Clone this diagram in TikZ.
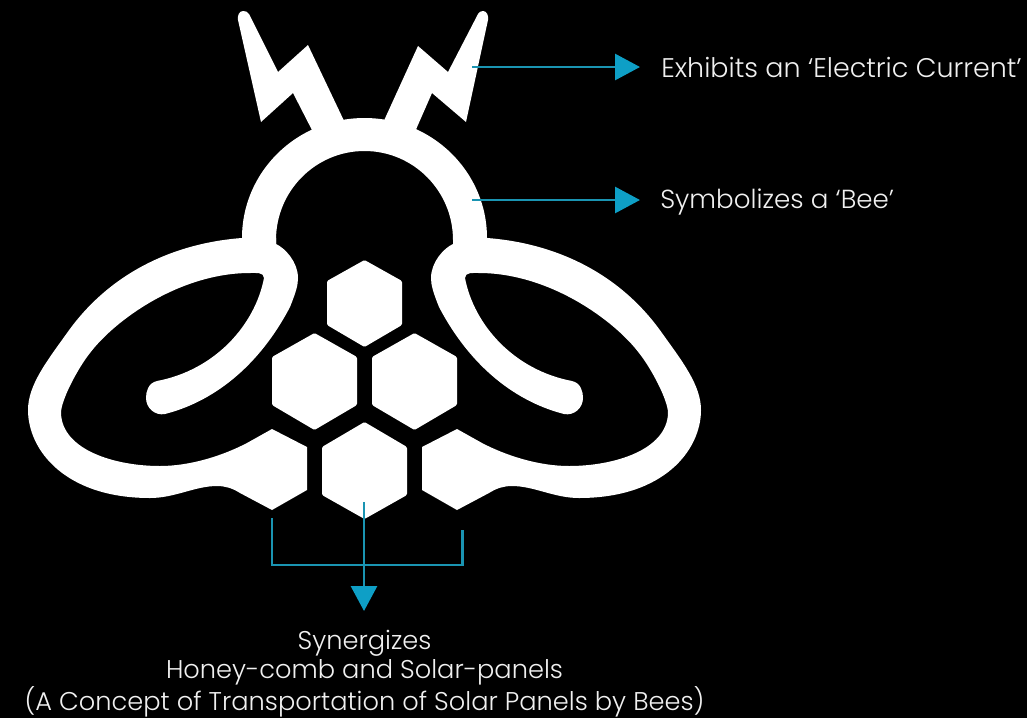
\documentclass[tikz,border=0pt]{standalone}
\usepackage{fontspec}
\setmainfont{Poppins Light}
\usetikzlibrary{arrows.meta}
\definecolor{teal}{HTML}{1A94B2}
\definecolor{headc}{HTML}{0E9FC6}
\definecolor{lab}{HTML}{F0F0F0}
\tikzset{
  x=0.75pt,y=-0.75pt,
  conn/.style={draw=teal,line width=2.2pt,line join=miter,
    -{Triangle[length=18.75pt,width=19.5pt,color=headc]}},
  plain/.style={draw=teal,line width=2.2pt,line join=miter},
  shapew/.style={fill=white,draw=none},
  hexa/.style={fill=white,draw=none,rounded corners=1pt},
  lbl/.style={text=lab,font=\fontsize{19.25pt}{21.9pt}\selectfont,inner sep=0pt,align=center},
  lblbee/.style={lbl,font=\fontsize{19.6pt}{21.9pt}\selectfont},
  lblbig/.style={lbl,font=\fontsize{20.2pt}{21.9pt}\selectfont}
}
\newcommand{\wingshape}{%
  \fill[shapew]
   (276,238) -- (242,238)
   .. controls (175,243) and (110,272) .. (67,333)
   .. controls (47,361) and (28,385) .. (28,410)
   .. controls (28,450) and (65,498) .. (150,498)
   .. controls (175,498) and (195,486) .. (217,486)
   .. controls (225,486) and (232,488) .. (240,493)
   -- (272,510) -- (307,490) -- (307,447) -- (272,429) -- (247,443)
   .. controls (222,456) and (190,466) .. (160,466)
   .. controls (115,466) and (62,450) .. (61,413)
   .. controls (61,400) and (78,368) .. (90,353)
   .. controls (115,320) and (180,273) .. (250,273)
   .. controls (256,273) and (264,272) .. (264,278)
   .. controls (255,325) and (215,370) .. (157,381)
   .. controls (148,383) and (146,392) .. (146,398)
   .. controls (146,408) and (155,416) .. (165,414)
   .. controls (212,402) and (258,368) .. (290,307)
   .. controls (296,292) and (298,285) .. (298,278)
   .. controls (298,262) and (285,248) .. (276,244)
   -- cycle;}
\begin{document}
\begin{tikzpicture}
\useasboundingbox (0,0) rectangle (1027,718);
\fill[black] (0,0) rectangle (1027,718);
% head ring
\fill[shapew] (242,250) -- (242,238) arc[start angle=180,end angle=360,x radius=122.5,y radius=120] -- (487,250) -- (453,250) -- (453,240) arc[start angle=0,end angle=-180,x radius=88.5,y radius=89] -- (276,250) -- cycle;
% bolts
\fill[shapew] (314,134) -- (293,93) -- (261,122) -- (238,20) to[out=100,in=180] (243,11) to[out=0,in=120] (249,14) -- (278,72) -- (308,45) -- (346,125) -- cycle;
\fill[shapew] (414,134) -- (432,93) -- (466,122) -- (488,20) to[out=80,in=0] (483,11) to[out=180,in=60] (478,14) -- (448,72) -- (418,46) -- (382,125) -- cycle;
% wings
\wingshape
\begin{scope}[shift={(729,0)},xscale=-1]
\wingshape
\end{scope}
% hexagons
\fill[hexa] (364.5,260) -- (402,281) -- (402,325) -- (364.5,347) -- (327,325) -- (327,281) -- cycle;
\fill[hexa] (314.5,333) -- (357,357) -- (357,405) -- (314.5,430) -- (272,405) -- (272,357) -- cycle;
\fill[hexa] (414.5,333) -- (457,357) -- (457,405) -- (414.5,430) -- (372,405) -- (372,357) -- cycle;
\fill[hexa] (364.5,422) -- (407,447) -- (407,495) -- (364.5,519) -- (322,495) -- (322,447) -- cycle;
% labels
\node[lblbig,anchor=west] (electric) at (661,67) {Exhibits an ‘Electric Current’};
\node[lblbee,anchor=west] (bee) at (660,202.5) {Symbolizes a ‘Bee’};
\node[lbl] (syn) at (364.5,674) {Synergizes\\Honey-comb and Solar-panels\\(A Concept of Transportation of Solar Panels by Bees)};
% connectors
\coordinate (a1) at (472,67); \coordinate (a1e) at (640,67);
\coordinate (a2) at (472,200); \coordinate (a2e) at (640,200);
\coordinate (b0) at (364,502); \coordinate (b0e) at (364,611);
\coordinate (bl) at (272,518); \coordinate (blc) at (272,565);
\coordinate (brc) at (462.5,565); \coordinate (br) at (462.5,530);
\draw[conn] (a1) -- (a1e);
\draw[conn] (a2) -- (a2e);
\draw[plain] (bl) -- (blc) -- (brc) -- (br);
\draw[conn] (b0) -- (b0e);
\end{tikzpicture}
\end{document}
